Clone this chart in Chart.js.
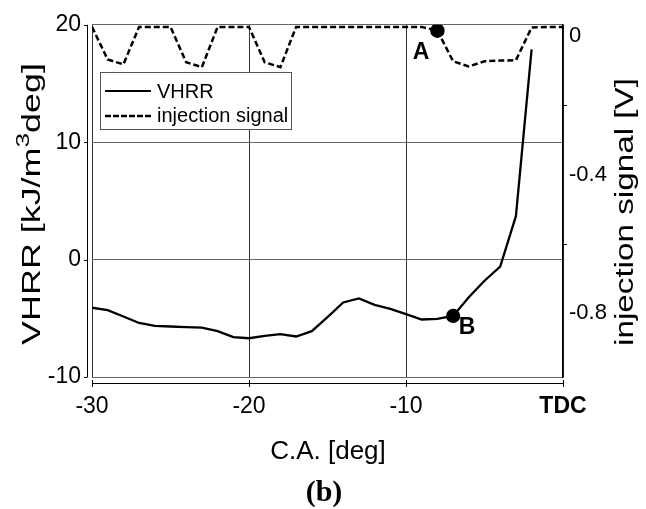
<!DOCTYPE html>
<html>
<head>
<meta charset="utf-8">
<script src="https://cdn.jsdelivr.net/npm/chart.js@4.4.1/dist/chart.umd.min.js"></script>
<style>
  html, body { margin: 0; padding: 0; background: #fff; }
  canvas { display: block; }
</style>
</head>
<body>
<canvas id="vhrrChart" width="646" height="509"></canvas>
<script>
// crank angle in degrees (0 = TDC)
const crankAngle = [-30, -29, -28, -27, -26, -25, -24, -23, -22, -21, -20, -19, -18, -17, -16,
                    -15, -14, -13, -12, -11, -10, -9, -8, -7, -6, -5, -4, -3, -2];
// VHRR [kJ/m3deg]
const vhrr = [-4.1, -4.3, -4.85, -5.4, -5.65, -5.7, -5.75, -5.8, -6.1, -6.6, -6.7, -6.5, -6.35, -6.55, -6.1,
              -4.9, -3.65, -3.3, -3.85, -4.2, -4.65, -5.1, -5.05, -4.8, -3.2, -1.8, -0.6, 3.7, 17.9];

// injection signal [V]
const signalAngle = [-30, -29, -28, -27, -26, -25, -24, -23, -22, -21, -20, -19, -18, -17, -16, -15,
                     -14, -13, -12, -11, -10, -9, -8, -7, -6, -5, -4, -3, -2, -1, 0];
const signal = [0.025, -0.069, -0.083, 0.025, 0.025, 0.025, -0.077, -0.091, 0.025, 0.025, 0.025, -0.077, -0.091, 0.025, 0.025, 0.025,
                0.025, 0.025, 0.025, 0.025, 0.025, 0.025, 0.014, -0.074, -0.089, -0.074, -0.072, -0.071, 0.023, 0.025, 0.025];

const xTicks = [-30, -20, -10, 0];
const yTicks = [-10, 0, 10, 20];
const y2Ticks = [0, -0.4, -0.8];
const y2MinorTicks = [-0.2, -0.6];

const markA = -8;   // on injection signal
const markB = -7;   // on VHRR

const FONT = "'Liberation Sans', Arial, sans-serif";

function toPoints(xs, ys) {
    return xs.map((x, i) => ({ x: x, y: ys[i] }));
}

// rotated axis title, stretched along its length like the original figure
function drawRotated(ctx, parts, cx, cy, stretch) {
    ctx.save();
    ctx.translate(cx, cy);
    ctx.rotate(-Math.PI / 2);
    ctx.scale(stretch, 1);
    ctx.textAlign = 'left';
    ctx.textBaseline = 'middle';
    let total = 0;
    parts.forEach(p => { ctx.font = p.size + 'px ' + FONT; p.w = ctx.measureText(p.text).width; total += p.w; });
    let sx = -total / 2;
    parts.forEach(p => {
        ctx.font = p.size + 'px ' + FONT;
        ctx.fillText(p.text, sx, p.dy || 0);
        sx += p.w;
    });
    ctx.restore();
}

const decorations = {
    id: 'decorations',
    afterDraw(chart) {
        const ctx = chart.ctx;
        const area = chart.chartArea;
        const x = chart.scales.x, y = chart.scales.y, y2 = chart.scales.y2;
        ctx.save();

        // offset left axis
        ctx.strokeStyle = '#000';
        ctx.lineWidth = 1;
        const axL = area.left - 5;
        ctx.beginPath();
        ctx.moveTo(axL + 0.5, area.top);
        ctx.lineTo(axL + 0.5, area.bottom);
        yTicks.forEach(v => {
            const py = Math.round(y.getPixelForValue(v)) + 0.5;
            ctx.moveTo(axL - 3, py);
            ctx.lineTo(axL + 0.5, py);
        });
        ctx.stroke();

        // offset bottom axis
        const axB = area.bottom + 6;
        ctx.beginPath();
        ctx.moveTo(area.left, axB + 0.5);
        ctx.lineTo(area.right, axB + 0.5);
        xTicks.forEach(v => {
            const px = Math.round(x.getPixelForValue(v)) + 0.5;
            ctx.moveTo(px, axB - 3);
            ctx.lineTo(px, axB + 4);
        });
        ctx.stroke();

        // right axis minor ticks
        ctx.beginPath();
        y2MinorTicks.forEach(v => {
            const py = Math.round(y2.getPixelForValue(v)) + 0.5;
            ctx.moveTo(area.right, py);
            ctx.lineTo(area.right + 4, py);
        });
        ctx.stroke();

        // legend
        const lx = 100, ly = 72, lw = 191, lh = 57;
        ctx.fillStyle = '#fff';
        ctx.fillRect(lx, ly, lw, lh);
        ctx.strokeStyle = '#555';
        ctx.strokeRect(lx + 0.5, ly + 0.5, lw, lh);
        ctx.strokeStyle = '#000';
        ctx.lineWidth = 2;
        ctx.beginPath();
        ctx.moveTo(105, 91); ctx.lineTo(151, 91);
        ctx.stroke();
        ctx.lineWidth = 2.5;
        ctx.setLineDash([6, 2]);
        ctx.beginPath();
        ctx.moveTo(105, 116); ctx.lineTo(151, 116);
        ctx.stroke();
        ctx.setLineDash([]);
        ctx.fillStyle = '#000';
        ctx.font = '20px ' + FONT;
        ctx.textAlign = 'left';
        ctx.textBaseline = 'middle';
        ctx.fillText('VHRR', 157, 92);
        ctx.fillText('injection signal', 157, 116);

        // point labels
        ctx.font = 'bold 23px ' + FONT;
        ctx.textAlign = 'center';
        ctx.fillText('A', 421, 53);
        ctx.fillText('B', 467, 328);

        // x title
        ctx.font = '26px ' + FONT;
        ctx.fillText('C.A. [deg]', 328, 452);

        // axis titles
        drawRotated(ctx, [
            { text: 'VHRR [kJ/m', size: 26 },
            { text: '3', size: 19, dy: -9 },
            { text: 'deg]', size: 26 }
        ], 33, 204, 1.38);
        drawRotated(ctx, [{ text: 'injection signal [V]', size: 25 }], 626, 212, 1.33);

        // panel label
        ctx.font = "bold 30px 'Liberation Serif', 'Times New Roman', serif";
        ctx.textAlign = 'center';
        ctx.fillText('(b)', 324, 493);

        ctx.restore();
    }
};

new Chart(document.getElementById('vhrrChart').getContext('2d'), {
    type: 'line',
    data: {
        datasets: [{
            label: 'VHRR',
            data: toPoints(crankAngle, vhrr),
            yAxisID: 'y',
            borderColor: '#000',
            borderWidth: 2.3,
            backgroundColor: '#000',
            pointRadius: c => (c.raw && c.raw.x === markB ? 6 : 0),
            pointHoverRadius: 0,
            tension: 0
        }, {
            label: 'injection signal',
            data: toPoints(signalAngle, signal),
            yAxisID: 'y2',
            borderColor: '#000',
            borderWidth: 2.5,
            borderDash: [6, 3],
            backgroundColor: '#000',
            pointRadius: c => (c.raw && c.raw.x === markA ? 6 : 0),
            pointHoverRadius: 0,
            tension: 0
        }]
    },
    options: {
        responsive: false,
        animation: false,
        devicePixelRatio: 1,
        layout: { padding: { top: 22, left: 0, right: 0, bottom: 0 } },
        plugins: { legend: { display: false }, tooltip: { enabled: false } },
        scales: {
            x: {
                type: 'linear',
                min: -30, max: 0,
                afterBuildTicks: s => { s.ticks = xTicks.map(v => ({ value: v })); },
                afterFit: s => { s.height = 132; },
                grid: { color: '#333', lineWidth: 1, drawTicks: false },
                border: { display: false },
                ticks: {
                    padding: 16,
                    color: '#000',
                    font: c => ({ family: FONT, size: 23, weight: c.tick && c.tick.value === 0 ? 'bold' : 'normal' }),
                    callback: v => (v === 0 ? 'TDC' : v)
                }
            },
            y: {
                position: 'left',
                min: -10, max: 20,
                afterBuildTicks: s => { s.ticks = yTicks.map(v => ({ value: v })); },
                afterFit: s => { s.width = 92; },
                grid: { color: '#666', lineWidth: 1, drawTicks: false },
                border: { display: false },
                ticks: { padding: 11, color: '#000', font: { family: FONT, size: 23 } }
            },
            y2: {
                position: 'right',
                min: -0.983, max: 0.031,
                afterBuildTicks: s => { s.ticks = y2Ticks.map(v => ({ value: v })); },
                afterFit: s => { s.width = 83; },
                grid: { display: false, drawTicks: false },
                border: { display: true, color: '#000', width: 1.5 },
                ticks: {
                    padding: 6, color: '#000', font: { family: FONT, size: 22 },
                    callback: v => (v === 0 ? '0' : v.toFixed(1))
                }
            }
        }
    },
    plugins: [decorations]
});
</script>
</body>
</html>
